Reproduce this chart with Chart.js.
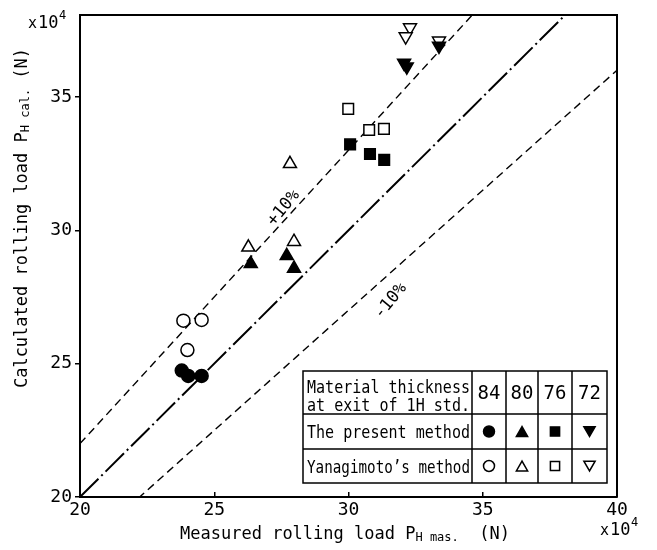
<!DOCTYPE html>
<html>
<head>
<meta charset="utf-8">
<script src="https://cdn.jsdelivr.net/npm/chart.js@4.4.0/dist/chart.umd.min.js"></script>
<style>
  html, body { margin: 0; padding: 0; background: #fff; }
</style>
</head>
<body>
<canvas id="loadChart" width="657" height="550"></canvas>
<script>
// Axis ranges and ticks (x10^4 N)
const xRange = [20, 40];
const yRange = [20, 38.07];
const xTicks = [20, 25, 30, 35, 40];
const yTicks = [20, 25, 30, 35];

// Reference lines y = k * x  (exact, +10%, -10%)
const refSlopes = [1.0, 1.1, 0.9];

// Material thickness at exit of 1H std.
const thickness = ['84', '80', '76', '72'];

// The present method (filled markers) [measured, calculated]
const present84 = [[23.79, 24.74], [24.03, 24.54], [24.53, 24.54]];
const present80 = [[26.36, 28.74], [27.70, 29.04], [27.97, 28.57]];
const present76 = [[30.06, 33.22], [30.80, 32.86], [31.33, 32.64]];
const present72 = [[32.07, 36.27], [32.17, 36.13], [33.37, 36.91]];

// Yanagimoto's method (open markers)
const yanagi84 = [[23.85, 26.61], [24.53, 26.64], [24.00, 25.51]];
const yanagi80 = [[27.82, 32.49], [26.27, 29.36], [27.97, 29.57]];
const yanagi76 = [[29.99, 34.55], [30.77, 33.76], [31.32, 33.80]];
const yanagi72 = [[32.29, 37.60], [32.13, 37.26], [33.37, 37.10]];

const FONT = "'DejaVu Sans Mono', monospace";
const toXY = pts => pts.map(p => ({ x: p[0], y: p[1] }));

// marker style per thickness column
const styles = [
    { style: 'circle', radius: 6.5, rot: 0 },
    { style: 'triangle', radius: 7.5, rot: 0 },
    { style: 'rect', radius: 7.5, rot: 0 },
    { style: 'triangle', radius: 7.5, rot: 180 }
];

function markerSet(label, pts, i, filled) {
    return {
        label: label,
        data: toXY(pts),
        pointStyle: styles[i].style,
        pointRadius: styles[i].radius,
        rotation: styles[i].rot,
        backgroundColor: filled ? '#000' : '#fff',
        borderColor: '#000',
        borderWidth: 1.5,
        showLine: false
    };
}

function refLine(k, dash, width) {
    return {
        label: 'y=' + k + 'x',
        data: [{ x: xRange[0], y: xRange[0] * k }, { x: xRange[1], y: xRange[1] * k }],
        showLine: true,
        borderColor: '#000',
        borderWidth: width,
        borderDash: dash,
        pointRadius: 0,
        fill: false
    };
}

// small marker painter for the legend table
function mark(ctx, i, x, y, filled) {
    const s = styles[i];
    const r = s.radius - 1;
    ctx.beginPath();
    if (s.style === 'circle') {
        ctx.arc(x, y, r, 0, Math.PI * 2);
    } else if (s.style === 'rect') {
        const h = r * Math.SQRT1_2;
        ctx.rect(x - h, y - h, 2 * h, 2 * h);
    } else {
        const d = s.rot ? 1 : -1;
        const yc = y - d * r / 4;
        ctx.moveTo(x, yc + d * r);
        ctx.lineTo(x - r * 0.866, yc - d * r / 2);
        ctx.lineTo(x + r * 0.866, yc - d * r / 2);
        ctx.closePath();
    }
    ctx.fillStyle = filled ? '#000' : '#fff';
    ctx.fill();
    ctx.lineWidth = 1.5;
    ctx.strokeStyle = '#000';
    ctx.stroke();
}

// text with a subscript part, drawn centred at (cx, baseline)
function subText(ctx, parts, cx, base) {
    let total = 0;
    parts.forEach(p => { ctx.font = p[1] + 'px ' + FONT; total += ctx.measureText(p[0]).width; });
    let x = cx - total / 2;
    parts.forEach(p => {
        ctx.font = p[1] + 'px ' + FONT;
        ctx.fillText(p[0], x, base + p[2]);
        x += ctx.measureText(p[0]).width;
    });
}

function times10(ctx, x, base) {
    ctx.textAlign = 'left';
    ctx.font = '15px ' + FONT;
    ctx.fillText('x', x, base);
    ctx.font = '17px ' + FONT;
    ctx.fillText('10', x + 10, base);
    ctx.font = '12px ' + FONT;
    ctx.fillText('4', x + 31, base - 9);
}

const decorations = {
    id: 'decorations',
    afterDraw(chart) {
        const ctx = chart.ctx;
        const a = chart.chartArea;
        ctx.save();
        ctx.strokeStyle = '#000';
        ctx.fillStyle = '#000';

        // frame top and right
        ctx.lineWidth = 2;
        ctx.beginPath();
        ctx.moveTo(a.left, a.top);
        ctx.lineTo(a.right, a.top);
        ctx.lineTo(a.right, a.bottom);
        ctx.stroke();

        ctx.textBaseline = 'alphabetic';
        // x title
        subText(ctx, [['Measured rolling load P', 17, 0], ['H mas.', 12, 2], ['  (N)', 17, 0]], 345, 539);
        // y title
        ctx.save();
        ctx.translate(21, 218);
        ctx.rotate(-Math.PI / 2);
        subText(ctx, [['Calculated rolling load P', 17, 0], ['H cal.', 12, 2], [' (N)', 17, 0]], 0, 6);
        ctx.restore();

        times10(ctx, 28, 28);
        times10(ctx, 600, 535);

        // band labels
        ctx.font = '17px ' + FONT;
        ctx.textAlign = 'center';
        ctx.save();
        ctx.translate(287, 211);
        ctx.rotate(-0.88);
        ctx.fillText('+10%', 0, 0);
        ctx.restore();
        ctx.save();
        ctx.translate(394, 304);
        ctx.rotate(-0.88);
        ctx.fillText('-10%', 0, 0);
        ctx.restore();

        // legend table
        const cols = [303, 472, 506, 538, 572, 607];
        const rows = [371, 414, 449, 483];
        ctx.fillStyle = '#fff';
        ctx.fillRect(cols[0], rows[0], cols[5] - cols[0], rows[3] - rows[0]);
        ctx.lineWidth = 1.5;
        ctx.strokeStyle = '#000';
        ctx.strokeRect(cols[0], rows[0], cols[5] - cols[0], rows[3] - rows[0]);
        ctx.beginPath();
        for (let i = 1; i < 5; i++) { ctx.moveTo(cols[i], rows[0]); ctx.lineTo(cols[i], rows[3]); }
        for (let j = 1; j < 3; j++) { ctx.moveTo(cols[0], rows[j]); ctx.lineTo(cols[5], rows[j]); }
        ctx.stroke();

        ctx.fillStyle = '#000';
        ctx.textAlign = 'left';
        ctx.font = '17px ' + FONT;
        const w = cols[1] - cols[0] - 6;
        ctx.fillText('Material thickness', cols[0] + 4, 393, w);
        ctx.fillText('at exit of 1H std.', cols[0] + 4, 411, w);
        ctx.fillText('The present method', cols[0] + 4, 438, w);
        ctx.fillText('Yanagimoto\u2019s method', cols[0] + 4, 473, w);

        ctx.textAlign = 'center';
        ctx.font = '19px ' + FONT;
        for (let i = 0; i < 4; i++) {
            const cx = (cols[i + 1] + cols[i + 2]) / 2;
            ctx.fillStyle = '#000';
            ctx.fillText(thickness[i], cx, 399, cols[i + 2] - cols[i + 1] - 4);
            mark(ctx, i, cx, (rows[1] + rows[2]) / 2, true);
            mark(ctx, i, cx, (rows[2] + rows[3]) / 2, false);
        }
        ctx.restore();
    }
};

const ctx = document.getElementById('loadChart').getContext('2d');
new Chart(ctx, {
    type: 'scatter',
    data: {
        datasets: [
            markerSet('The present method 84', present84, 0, true),
            markerSet('The present method 80', present80, 1, true),
            markerSet('The present method 76', present76, 2, true),
            markerSet('The present method 72', present72, 3, true),
            markerSet("Yanagimoto's method 84", yanagi84, 0, false),
            markerSet("Yanagimoto's method 80", yanagi80, 1, false),
            markerSet("Yanagimoto's method 76", yanagi76, 2, false),
            markerSet("Yanagimoto's method 72", yanagi72, 3, false),
            refLine(refSlopes[0], [26, 4, 2, 4], 2),
            refLine(refSlopes[1], [8, 5], 1.4),
            refLine(refSlopes[2], [8, 5], 1.4)
        ]
    },
    options: {
        responsive: false,
        animation: false,
        layout: { padding: { left: 0, right: 40, top: 15, bottom: 0 } },
        plugins: {
            legend: { display: false },
            tooltip: { enabled: false }
        },
        scales: {
            x: {
                type: 'linear',
                min: xRange[0],
                max: xRange[1],
                afterBuildTicks: s => { s.ticks = xTicks.map(v => ({ value: v })); },
                afterFit: s => { s.height = 53; },
                grid: { drawOnChartArea: false, tickLength: -5, color: '#000', lineWidth: 1.5 },
                border: { color: '#000', width: 2 },
                ticks: { color: '#000', font: { family: FONT, size: 18 }, padding: 8, maxRotation: 0, autoSkip: false }
            },
            y: {
                type: 'linear',
                min: yRange[0],
                max: yRange[1],
                afterBuildTicks: s => { s.ticks = yTicks.map(v => ({ value: v })); },
                afterFit: s => { s.width = 80; },
                grid: { drawOnChartArea: false, tickLength: 5, color: '#000', lineWidth: 1.5 },
                border: { color: '#000', width: 2 },
                ticks: { color: '#000', font: { family: FONT, size: 18 }, padding: 3, autoSkip: false }
            }
        }
    },
    plugins: [decorations]
});
</script>
</body>
</html>
